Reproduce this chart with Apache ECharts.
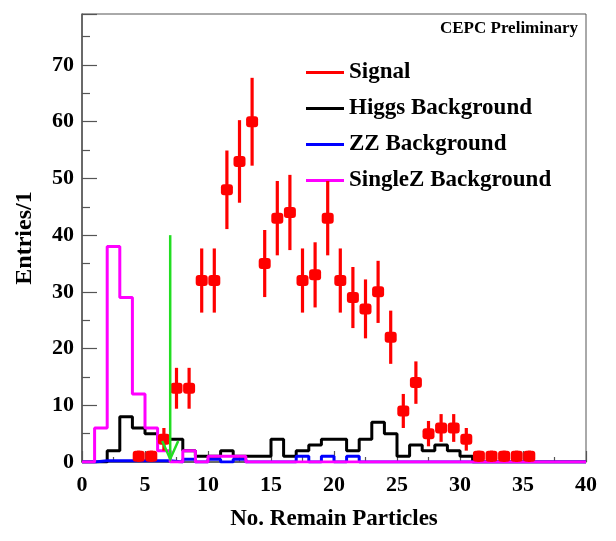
<!DOCTYPE html>
<html>
<head>
<meta charset="utf-8">
<script src="https://cdn.jsdelivr.net/npm/echarts@6/dist/echarts.min.js"></script>
<style>
  html, body { margin: 0; padding: 0; background: #fff; }
  #chart { width: 616px; height: 541px; }
</style>
</head>
<body>
<div id="chart"></div>
<script>
// Signal: bin centres and entries (error = sqrt(N))
const signalX = [4.5, 5.5, 6.5, 7.5, 8.5, 9.5, 10.5, 11.5, 12.5, 13.5, 14.5, 15.5, 16.5, 17.5, 18.5, 19.5,
                 20.5, 21.5, 22.5, 23.5, 24.5, 25.5, 26.5, 27.5, 28.5, 29.5, 30.5, 31.5, 32.5, 33.5, 34.5, 35.5];
const signalY = [1, 1, 4, 13, 13, 32, 32, 48, 53, 60, 35, 43, 44, 32, 33, 43,
                 32, 29, 27, 30, 22, 9, 14, 5, 6, 6, 4, 1, 1, 1, 1, 1];

// Background histograms, one value per unit bin from 0 to 40
const higgsBins = [0, 0, 2, 8, 6, 5, 4, 4, 2, 1, 1, 2, 1, 1, 1, 4, 1, 2, 3, 4,
                   4, 2, 4, 7, 5, 1, 3, 2, 3, 2, 1, 0, 0, 0, 0, 0, 0, 0, 0, 0];
const zzBins = [0, 0.2, 0.2, 0.2, 0.2, 0.2, 0.2, 0, 0.5, 0, 0.5, 0, 0.5, 0, 0, 0, 0, 1, 0, 1,
                0, 1, 0, 0, 0, 0, 0, 0, 0, 0, 0, 0, 0, 0, 0, 0, 0, 0, 0, 0];
const singleZBins = [0, 6, 38, 29, 12, 6, 2, 0, 2, 0, 1, 1, 1, 0, 0, 0, 0, 0, 0, 0,
                     0, 0, 0, 0, 0, 0, 0, 0, 0, 0, 0, 0, 0, 0, 0, 0, 0, 0, 0, 0];

// Cut arrow
const cutValue = 7;
const cutArrowTop = 40;

const xMin = 0, xMax = 40;
const yMin = 0, yMax = 79;

const FONT = '"Liberation Serif", "DejaVu Serif", serif';

function stepData(bins) {
  const pts = bins.map((v, i) => [xMin + i, v]);
  pts.push([xMin + bins.length, bins[bins.length - 1]]);
  return pts;
}

const chart = echarts.init(document.getElementById('chart'), null, { renderer: 'canvas' });

const option = {
  backgroundColor: '#fff',
  animation: false,
  title: {
    text: 'CEPC Preliminary',
    right: 33,
    top: 15,
    textStyle: { fontFamily: FONT, fontWeight: 'bold', fontSize: 17, color: '#000' }
  },
  legend: {
    orient: 'vertical',
    left: 301,
    top: 56,
    itemWidth: 38,
    itemHeight: 3,
    itemGap: 13,
    textStyle: { fontFamily: FONT, fontWeight: 'bold', fontSize: 23, color: '#000', lineHeight: 23 },
    data: [
      { name: 'Signal', icon: 'rect', itemStyle: { color: '#ff0000', borderWidth: 0 } },
      { name: 'Higgs Background', icon: 'rect', itemStyle: { color: '#000000', borderWidth: 0 } },
      { name: 'ZZ Background', icon: 'rect', itemStyle: { color: '#0000ff', borderWidth: 0 } },
      { name: 'SingleZ Background', icon: 'rect', itemStyle: { color: '#ff00ff', borderWidth: 0 } }
    ]
  },
  grid: {
    left: 82, right: 30, top: 14, bottom: 79,
    show: true, borderColor: '#555', borderWidth: 1, backgroundColor: 'transparent'
  },
  xAxis: {
    type: 'value', min: xMin, max: xMax, interval: 5,
    name: 'No. Remain Particles', nameLocation: 'middle', nameGap: 46,
    nameTextStyle: { fontFamily: FONT, fontWeight: 'bold', fontSize: 23, color: '#000' },
    axisLine: { show: true, lineStyle: { color: '#555', width: 1.5 } },
    axisTick: { show: true, inside: true, length: 11, lineStyle: { color: '#555', width: 1.2 } },
    minorTick: { show: true, splitNumber: 2, length: 5, lineStyle: { color: '#555', width: 1.2 } },
    axisLabel: { margin: 12, fontFamily: FONT, fontWeight: 'bold', fontSize: 22, color: '#000' },
    splitLine: { show: false }
  },
  yAxis: {
    type: 'value', min: yMin, max: yMax, interval: 10,
    name: 'Entries/1', nameLocation: 'middle', nameGap: 45, nameRotate: 90,
    nameTextStyle: { fontFamily: FONT, fontWeight: 'bold', fontSize: 24, color: '#000' },
    axisLine: { show: true, lineStyle: { color: '#555', width: 1.5 } },
    axisTick: { show: true, inside: true, length: 15, lineStyle: { color: '#555', width: 1.2 } },
    minorTick: { show: true, splitNumber: 2, length: 8, lineStyle: { color: '#555', width: 1.2 } },
    axisLabel: {
      margin: 8, fontFamily: FONT, fontWeight: 'bold', fontSize: 22, color: '#000',
      formatter: v => (v % 10 === 0 ? String(v) : '')
    },
    splitLine: { show: false }
  },
  series: [
    {
      name: 'Higgs Background', type: 'line', step: 'end', symbol: 'none',
      data: stepData(higgsBins),
      itemStyle: { color: '#000000' },
      lineStyle: { color: '#000000', width: 3 }, z: 3
    },
    {
      name: 'ZZ Background', type: 'line', step: 'end', symbol: 'none',
      data: stepData(zzBins),
      itemStyle: { color: '#0000ff' },
      lineStyle: { color: '#0000ff', width: 3 }, z: 4
    },
    {
      name: 'SingleZ Background', type: 'line', step: 'end', symbol: 'none',
      data: stepData(singleZBins),
      itemStyle: { color: '#ff00ff' },
      lineStyle: { color: '#ff00ff', width: 3 }, z: 5
    },
    {
      name: 'Signal', type: 'custom',
      itemStyle: { color: '#ff0000' },
      data: signalX.map((x, i) => [x, signalY[i]]),
      encode: { x: 0, y: 1 },
      z: 6,
      renderItem: function (params, api) {
        const x = api.value(0), v = api.value(1);
        const err = Math.sqrt(v);
        const c = api.coord([x, v]);
        const lo = api.coord([x, Math.max(v - err, 0)]);
        const hi = api.coord([x, v + err]);
        return {
          type: 'group',
          children: [
            { type: 'line', shape: { x1: c[0], y1: lo[1], x2: c[0], y2: hi[1] },
              style: { stroke: '#ff0000', lineWidth: 3.2 } },
            { type: 'rect', shape: { x: c[0] - 6, y: c[1] - 5.5, width: 12, height: 11, r: 3 },
              style: { fill: '#ff0000' } }
          ]
        };
      }
    },
    {
      name: 'cut', type: 'custom', silent: true, z: 7,
      data: [[cutValue, cutArrowTop]],
      encode: { x: 0, y: 1 },
      renderItem: function (params, api) {
        const top = api.coord([api.value(0), api.value(1)]);
        const tip = api.coord([api.value(0), 0]);
        const style = { stroke: '#22dd22', lineWidth: 2.5, fill: null };
        return {
          type: 'group',
          children: [
            { type: 'line', shape: { x1: top[0], y1: top[1], x2: tip[0], y2: tip[1] - 3 }, style: style },
            { type: 'polyline', shape: { points: [[tip[0] - 8, tip[1] - 21], [tip[0], tip[1] - 3], [tip[0] + 8, tip[1] - 21]] }, style: style }
          ]
        };
      }
    }
  ]
};

chart.setOption(option);
</script>
</body>
</html>
